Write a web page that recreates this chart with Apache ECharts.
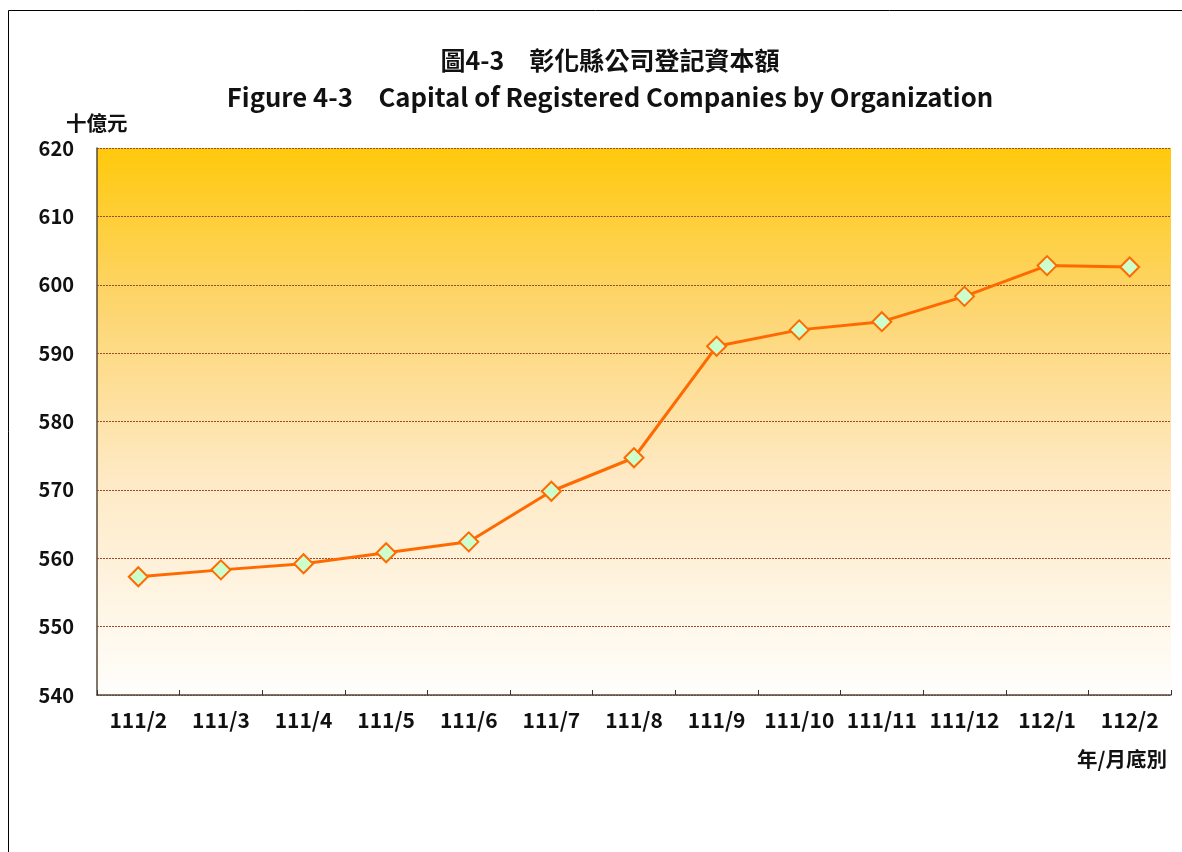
<!DOCTYPE html>
<html>
<head>
<meta charset="utf-8">
<script src="https://cdn.jsdelivr.net/npm/echarts@6/dist/echarts.min.js"></script>
<style>
  html, body { margin: 0; padding: 0; background: #fff; }
  #chart { width: 1182px; height: 852px; }
</style>
</head>
<body>
<div id="chart"></div>
<script>
// months (ROC year/month, end of month)
const months = ['111/2', '111/3', '111/4', '111/5', '111/6', '111/7', '111/8',
  '111/9', '111/10', '111/11', '111/12', '112/1', '112/2'];
// registered capital, billion NTD
const capital = [557.3, 558.3, 559.2, 560.8, 562.4, 569.8, 574.7,
  591.0, 593.4, 594.6, 598.3, 602.8, 602.6];

const font = '"Noto Sans CJK TC", "Noto Sans", sans-serif';

var myChart = echarts.init(document.getElementById('chart'));
const option = {
  backgroundColor: '#ffffff',
  animation: false,
  graphic: [
    {
      type: 'rect',
      shape: { x: 8.5, y: 10.5, width: 1200, height: 900 },
      style: { fill: 'none', stroke: '#000', lineWidth: 1 },
      silent: true
    },
    {
      type: 'text',
      x: 610,
      y: 60,
      style: {
        text: '圖4-3\u3000彰化縣公司登記資本額',
        font: 'bold 25px ' + font, fill: '#111',
        align: 'center', verticalAlign: 'middle'
      }
    },
    {
      type: 'text',
      x: 610,
      y: 97,
      style: {
        text: 'Figure 4-3\u3000Capital of Registered Companies by Organization',
        font: 'bold 25.7px ' + font, fill: '#111',
        align: 'center', verticalAlign: 'middle'
      }
    },
    {
      type: 'text',
      left: 66,
      top: 113,
      style: { text: '十億元', font: 'bold 20.5px ' + font, fill: '#111' }
    },
    {
      type: 'text',
      right: 15,
      top: 749,
      style: { text: '年/月底別', font: 'bold 20.5px ' + font, fill: '#111' }
    }
  ],
  grid: {
    left: 97,
    right: 11,
    top: 148,
    bottom: 157,
    show: true,
    borderWidth: 0,
    backgroundColor: {
      type: 'linear', x: 0, y: 0, x2: 0, y2: 1,
      colorStops: [
        { offset: 0, color: '#FFC90C' },
        { offset: 0.3, color: '#FDD672' },
        { offset: 0.6, color: '#FEE9C4' },
        { offset: 1, color: '#FFFEFC' }
      ]
    }
  },
  xAxis: {
    type: 'category',
    data: months,
    boundaryGap: true,
    axisLine: { show: true, lineStyle: { color: '#5a4a3a', width: 1.5 } },
    axisTick: { show: true, inside: true, length: 5, interval: 0, lineStyle: { color: '#333' } },
    axisLabel: {
      interval: 0,
      hideOverlap: false,
      margin: 15,
      fontFamily: font, fontSize: 21, fontWeight: 'bold', color: '#111'
    }
  },
  yAxis: {
    type: 'value',
    min: 540,
    max: 620,
    interval: 10,
    axisLine: { show: true, lineStyle: { color: '#5a4a3a', width: 1.5 } },
    axisTick: { show: false },
    axisLabel: {
      margin: 23,
      fontFamily: font, fontSize: 20, fontWeight: 'bold', color: '#111'
    },
    splitLine: {
      show: true,
      lineStyle: { color: '#9b4a2a', type: [2, 1], width: 1 }
    }
  },
  series: [
    {
      type: 'line',
      data: capital,
      symbol: 'diamond',
      symbolSize: 19,
      lineStyle: { color: '#FF6A00', width: 3 },
      itemStyle: { color: '#CCFFCC', borderColor: '#FF6A00', borderWidth: 2 }
    }
  ]
};
myChart.setOption(option);
</script>
</body>
</html>
